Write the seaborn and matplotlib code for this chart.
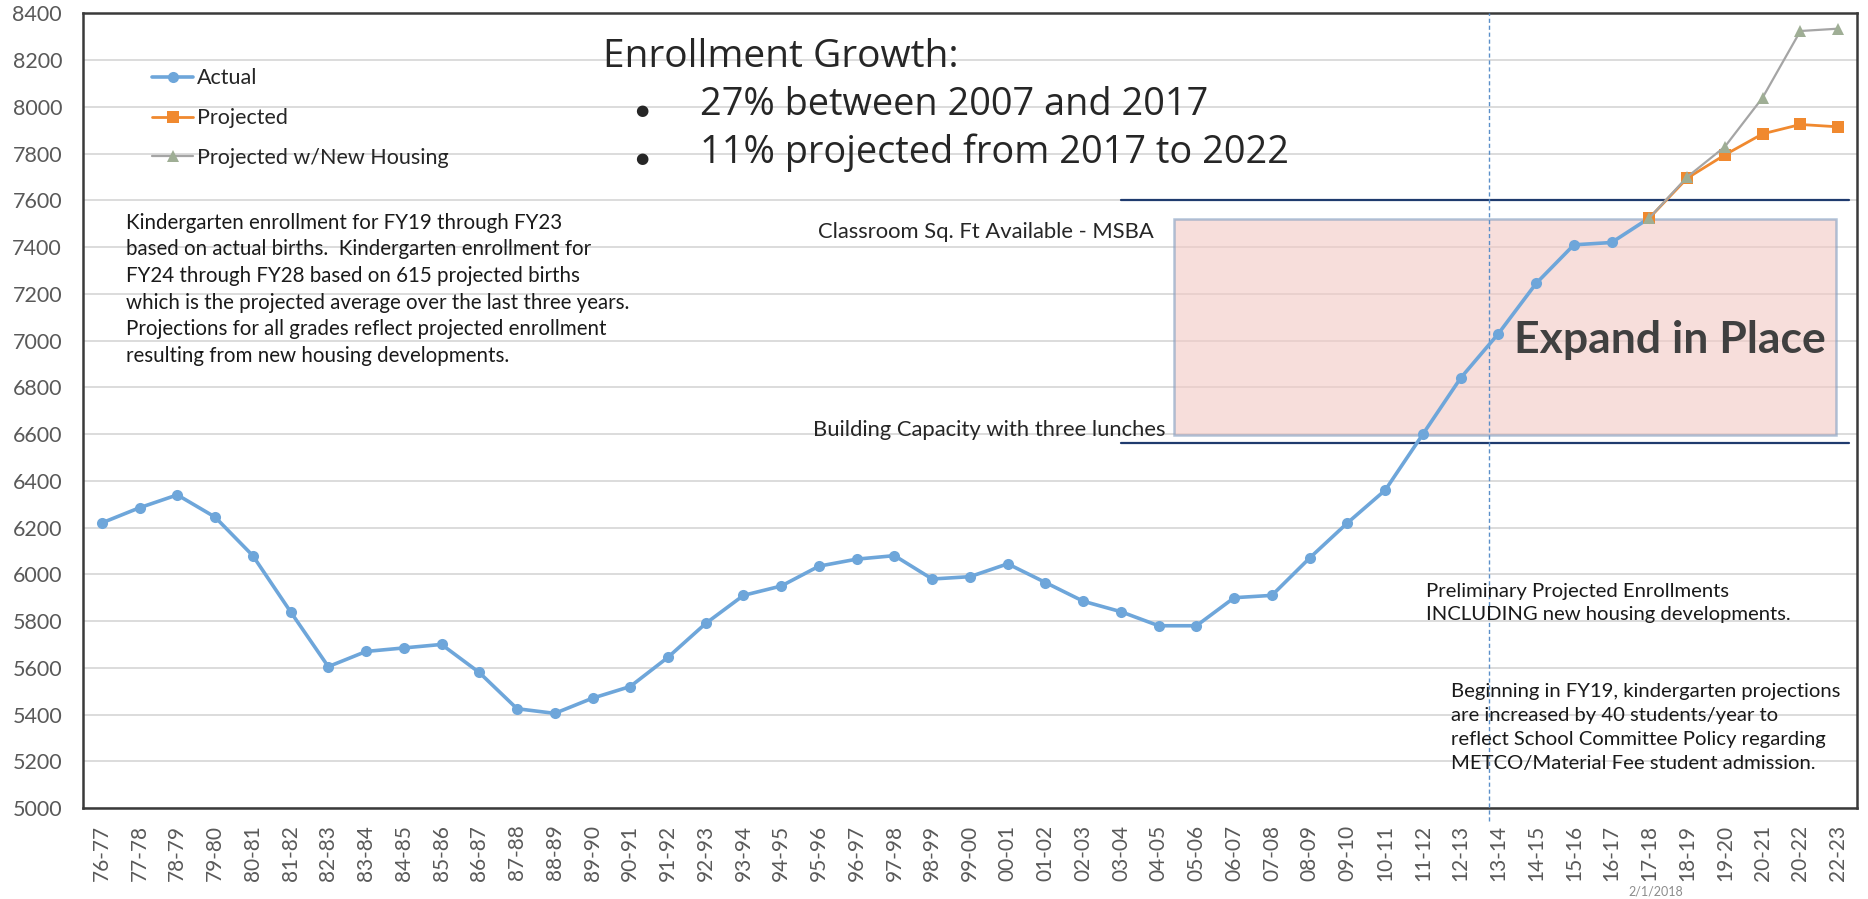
import numpy as np
import pandas as pd
import seaborn as sns

import matplotlib
matplotlib.use('Agg')
import matplotlib.pyplot as plt
from matplotlib.patches import Rectangle

# school years on the x axis (the "20-22" label is as in the source chart)
years = ["76-77", "77-78", "78-79", "79-80", "80-81", "81-82", "82-83", "83-84",
         "84-85", "85-86", "86-87", "87-88", "88-89", "89-90", "90-91", "91-92",
         "92-93", "93-94", "94-95", "95-96", "96-97", "97-98", "98-99", "99-00",
         "00-01", "01-02", "02-03", "03-04", "04-05", "05-06", "06-07", "07-08",
         "08-09", "09-10", "10-11", "11-12", "12-13", "13-14", "14-15", "15-16",
         "16-17", "17-18", "18-19", "19-20", "20-21", "20-22", "22-23"]

actual = [6220, 6285, 6340, 6245, 6080, 5840, 5605, 5670, 5685, 5700, 5580,
          5425, 5405, 5470, 5520, 5645, 5790, 5910, 5950, 6035, 6065, 6080,
          5980, 5990, 6045, 5965, 5885, 5840, 5780, 5780, 5900, 5910, 6070,
          6220, 6360, 6600, 6840, 7030, 7245, 7410, 7420, 7525]
proj_years = ["17-18", "18-19", "19-20", "20-21", "20-22", "22-23"]
projected = [7525, 7695, 7795, 7885, 7925, 7915]
projected_housing = [7525, 7700, 7830, 8040, 8325, 8335]

msba_capacity = 7600       # Classroom Sq. Ft Available - MSBA
lunch_capacity = 6560      # Building Capacity with three lunches
expand_box = (6595, 7520)  # "Expand in Place" band

pos = {y: i for i, y in enumerate(years)}
df_actual = pd.DataFrame({"x": [pos[y] for y in years[:len(actual)]], "v": actual})
df_proj = pd.DataFrame({"x": [pos[y] for y in proj_years], "v": projected})
df_house = pd.DataFrame({"x": [pos[y] for y in proj_years], "v": projected_housing})

sns.set_style("white")
plt.rcParams['font.family'] = ['Lato', 'DejaVu Sans']

fig = plt.figure(figsize=(18.68, 8.99), dpi=100)
ax = fig.add_axes([0.0444, 0.1012, 0.9497, 0.8838])

blue = '#6EA6DA'
orange = '#F0892F'
gray = '#A5A5A5'

sns.lineplot(data=df_actual, x="x", y="v", ax=ax, color=blue, marker='o',
             markersize=8, markeredgewidth=0, linewidth=2.6, label="Actual", zorder=4)
sns.lineplot(data=df_proj, x="x", y="v", ax=ax, color=orange, marker='s',
             markersize=8, markeredgewidth=0, linewidth=2.0, label="Projected", zorder=5)
sns.lineplot(data=df_house, x="x", y="v", ax=ax, color=gray, marker='^',
             markersize=8, markeredgewidth=0, markerfacecolor='#9FAE95',
             linewidth=1.6, label="Projected w/New Housing", zorder=6)

# capacity band and lines
ax.add_patch(Rectangle((28.4, expand_box[0]), 45.95 - 28.4, expand_box[1] - expand_box[0],
                       facecolor='#F2C8C3', alpha=0.6, edgecolor='#7F9CC0',
                       linewidth=1.8, zorder=2))
ax.plot([27.0, 46.3], [msba_capacity, msba_capacity], color='#1F3B6E', lw=1.6, zorder=3)
ax.plot([27.0, 46.3], [lunch_capacity, lunch_capacity], color='#1F3B6E', lw=1.6, zorder=3)
ax.axvline(36.75, ymin=-0.016, ymax=1, color='#5B8FC9', lw=1.0,
           linestyle=(0, (3, 2)), clip_on=False, zorder=3)

ax.set_xlim(-0.5, 46.5)
ax.set_ylim(5000, 8400)
ax.set_yticks(np.arange(5000, 8401, 200))
ax.set_xticks(range(len(years)))
ax.set_xticklabels(years, rotation=90)
ax.set_xlabel("")
ax.set_ylabel("")
ax.tick_params(axis='y', length=0, pad=15, labelsize=15.5, labelcolor='#595959')
ax.tick_params(axis='x', length=0, pad=12, labelsize=15, labelcolor='#595959')
ax.grid(axis='y', color='#DCDCDC', linewidth=1.4, zorder=0)
ax.set_axisbelow(True)
for s in ax.spines.values():
    s.set_color('#3A3A3A')
    s.set_linewidth(1.8)

ax.legend(loc='upper left', bbox_to_anchor=(0.039, 0.931), frameon=False,
          fontsize=15.5, handlelength=1.9, handletextpad=0.2, labelspacing=0.92,
          borderpad=0, borderaxespad=0)

# headline
ax.text(13.27, 8169, "Enrollment Growth:", fontsize=28, family=['Open Sans', 'DejaVu Sans'],
        va='baseline', ha='left', zorder=7)
for yv, line in [(7967, "27% between 2007 and 2017"), (7762, "11% projected from 2017 to 2022")]:
    ax.text(14.31, yv, "\u25CF", fontsize=11, family=['DejaVu Sans'],
            va='baseline', ha='center', zorder=7)
    ax.text(15.85, yv, line, fontsize=27.3, family=['Open Sans', 'DejaVu Sans'],
            va='baseline', ha='left', zorder=7)

note = ("Kindergarten enrollment for FY19 through FY23\n"
        "based on actual births.  Kindergarten enrollment for\n"
        "FY24 through FY28 based on 615 projected births\n"
        "which is the projected average over the last three years.\n"
        "Projections for all grades reflect projected enrollment\n"
        "resulting from new housing developments.")
ax.text(0.64, 7548, note, fontsize=14.8, va='top', ha='left', linespacing=1.42, color='#1A1A1A')

ax.text(27.87, 7440, "Classroom Sq. Ft Available - MSBA", fontsize=15.8,
        va='baseline', ha='right', color='#262626')
ax.text(28.19, 6590, "Building Capacity with three lunches", fontsize=15.8,
        va='baseline', ha='right', color='#262626')
ax.text(37.41, 6948, "Expand in Place", fontsize=32, fontweight='bold',
        va='baseline', ha='left', color='#404040', zorder=7)

ax.text(35.08, 5965, "Preliminary Projected Enrollments\nINCLUDING new housing developments.",
        fontsize=14.6, va='top', ha='left', linespacing=1.45, color='#1A1A1A')
ax.text(35.74, 5535, "Beginning in FY19, kindergarten projections\n"
        "are increased by 40 students/year to\n"
        "reflect School Committee Policy regarding\n"
        "METCO/Material Fee student admission.",
        fontsize=14.6, va='top', ha='left', linespacing=1.5, color='#1A1A1A')

fig.text(1656 / 1868, 1 - 892 / 899, "2/1/2018", fontsize=9, color='#8C8C8C',
         ha='center', va='center')

plt.savefig("out.png", dpi=100)
plt.close()
